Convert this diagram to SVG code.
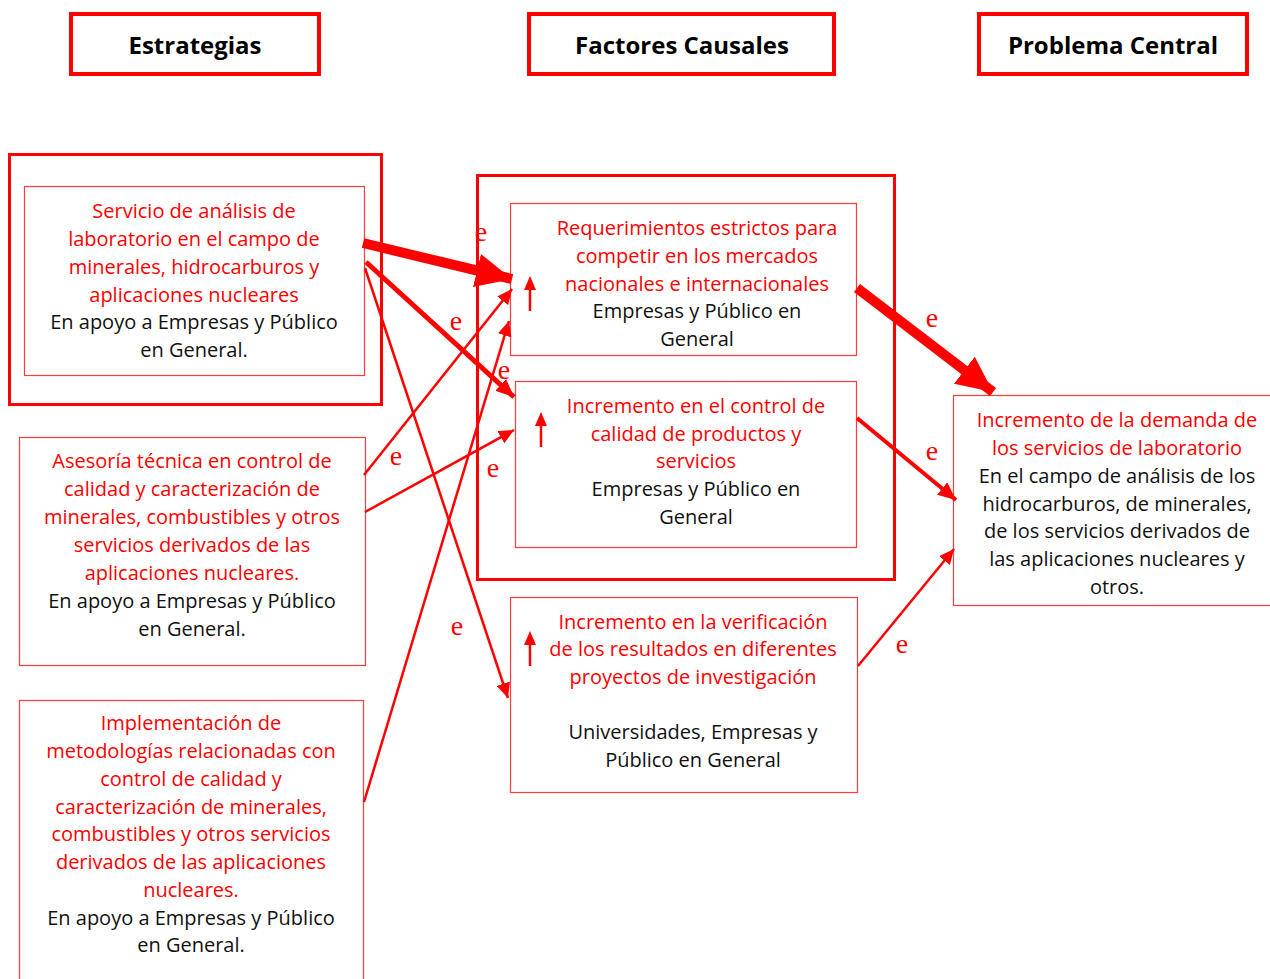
<svg xmlns="http://www.w3.org/2000/svg" width="1270" height="979" viewBox="0 0 1270 979">
<style>
.hdr{fill:#fff;stroke:#ff0000;stroke-width:4}
.hdrt{font-family:"Open Sans","Liberation Sans",sans-serif;font-weight:bold;font-size:24px;fill:#000;text-anchor:middle}
.outer{fill:none;stroke:#ff0000;stroke-width:3}
.box{fill:#fff;stroke:#ff3b3b;stroke-width:1.2}
.t{font-family:"Open Sans","Liberation Sans",sans-serif;font-size:20px;text-anchor:middle}
.r{fill:#ff0000}
.k{fill:#111}
.c{stroke:#ff0000;fill:none}
.e{font-family:"Liberation Serif",serif;font-size:28px;fill:#ff0000;text-anchor:middle}
</style>
<defs>
<marker id="big" markerUnits="userSpaceOnUse" markerWidth="38" markerHeight="34" refX="36" refY="17" orient="auto"><path d="M0,0 L36,17 L0,34 z" fill="#ff0000"/></marker>
<marker id="mid" markerUnits="userSpaceOnUse" markerWidth="20" markerHeight="16" refX="18" refY="8" orient="auto"><path d="M0,0 L18,8 L0,16 z" fill="#ff0000"/></marker>
<marker id="sm" markerUnits="userSpaceOnUse" markerWidth="16" markerHeight="14" refX="15" refY="7" orient="auto"><path d="M0,0 L15,7 L0,14 z" fill="#ff0000"/></marker>
</defs>
<rect width="1270" height="979" fill="#fff"/>

<g id="hdr-estrategias"><rect class="hdr" x="71" y="14" width="248" height="60"/><text class="hdrt" x="195" y="54">Estrategias</text></g>
<g id="hdr-factores"><rect class="hdr" x="529" y="14" width="305" height="60"/><text class="hdrt" x="682" y="54">Factores Causales</text></g>
<g id="hdr-problema"><rect class="hdr" x="979" y="14" width="268" height="60"/><text class="hdrt" x="1113" y="54">Problema Central</text></g>

<g id="strategy-group"><rect class="outer" x="9.5" y="154.5" width="372" height="250"/></g>
<g id="factors-group"><rect class="outer" x="477.5" y="175.5" width="417" height="404"/></g>

<g id="s1"><rect class="box" x="24.5" y="186.5" width="340" height="189"/>
<text class="t"><tspan class="r" x="194" y="218">Servicio de análisis de</tspan><tspan class="r" x="194" y="246">laboratorio en el campo de</tspan><tspan class="r" x="194" y="274">minerales, hidrocarburos y</tspan><tspan class="r" x="194" y="302">aplicaciones nucleares</tspan><tspan class="k" x="194" y="329">En apoyo a Empresas y Público</tspan><tspan class="k" x="194" y="357">en General.</tspan></text></g>

<g id="s2"><rect class="box" x="19.5" y="437.5" width="346" height="228"/>
<text class="t"><tspan class="r" x="192" y="468">Asesoría técnica en control de</tspan><tspan class="r" x="192" y="496">calidad y caracterización de</tspan><tspan class="r" x="192" y="524">minerales, combustibles y otros</tspan><tspan class="r" x="192" y="552">servicios derivados de las</tspan><tspan class="r" x="192" y="580">aplicaciones nucleares.</tspan><tspan class="k" x="192" y="608">En apoyo a Empresas y Público</tspan><tspan class="k" x="192" y="636">en General.</tspan></text></g>

<g id="s3"><rect class="box" x="19.5" y="700.5" width="344" height="290"/>
<text class="t"><tspan class="r" x="191" y="730">Implementación de</tspan><tspan class="r" x="191" y="758">metodologías relacionadas con</tspan><tspan class="r" x="191" y="786">control de calidad y</tspan><tspan class="r" x="191" y="814">caracterización de minerales,</tspan><tspan class="r" x="191" y="841">combustibles y otros servicios</tspan><tspan class="r" x="191" y="869">derivados de las aplicaciones</tspan><tspan class="r" x="191" y="897">nucleares.</tspan><tspan class="k" x="191" y="925">En apoyo a Empresas y Público</tspan><tspan class="k" x="191" y="952">en General.</tspan></text></g>

<g id="fA"><rect class="box" x="510.5" y="203.5" width="346" height="152"/>
<path d="M530,311 V288" stroke="#ff0000" stroke-width="2.5"/><path d="M524,290 L530,276 L536,290 z" fill="#ff0000"/>
<text class="t"><tspan class="r" x="697" y="235">Requerimientos estrictos para</tspan><tspan class="r" x="697" y="263">competir en los mercados</tspan><tspan class="r" x="697" y="291">nacionales e internacionales</tspan><tspan class="k" x="697" y="318">Empresas y Público en</tspan><tspan class="k" x="697" y="346">General</tspan></text></g>

<g id="fB"><rect class="box" x="515.5" y="381.5" width="341" height="166"/>
<path d="M541,447 V424" stroke="#ff0000" stroke-width="2.5"/><path d="M535,426 L541,412 L547,426 z" fill="#ff0000"/>
<text class="t"><tspan class="r" x="696" y="413">Incremento en el control de</tspan><tspan class="r" x="696" y="441">calidad de productos y</tspan><tspan class="r" x="696" y="468">servicios</tspan><tspan class="k" x="696" y="496">Empresas y Público en</tspan><tspan class="k" x="696" y="524">General</tspan></text></g>

<g id="fC"><rect class="box" x="510.5" y="597.5" width="347" height="195"/>
<path d="M530,666 V643" stroke="#ff0000" stroke-width="2.5"/><path d="M524,645 L530,631 L536,645 z" fill="#ff0000"/>
<text class="t"><tspan class="r" x="693" y="629">Incremento en la verificación</tspan><tspan class="r" x="693" y="656">de los resultados en diferentes</tspan><tspan class="r" x="693" y="684">proyectos de investigación</tspan><tspan class="k" x="693" y="739">Universidades, Empresas y</tspan><tspan class="k" x="693" y="767">Público en General</tspan></text></g>

<g id="problem"><rect class="box" x="953.5" y="395.5" width="320" height="210"/>
<text class="t"><tspan class="r" x="1117" y="427">Incremento de la demanda de</tspan><tspan class="r" x="1117" y="455">los servicios de laboratorio</tspan><tspan class="k" x="1117" y="483">En el campo de análisis de los</tspan><tspan class="k" x="1117" y="511">hidrocarburos, de minerales,</tspan><tspan class="k" x="1117" y="538">de los servicios derivados de</tspan><tspan class="k" x="1117" y="566">las aplicaciones nucleares y</tspan><tspan class="k" x="1117" y="594">otros.</tspan></text></g>

<g id="connectors">
<line class="c" x1="363" y1="243" x2="512" y2="279" stroke-width="10" marker-end="url(#big)"/>
<line class="c" x1="366" y1="262" x2="514" y2="397" stroke-width="5" marker-end="url(#mid)"/>
<line class="c" x1="365" y1="268" x2="508" y2="698" stroke-width="2.5" marker-end="url(#sm)"/>
<line class="c" x1="364" y1="475" x2="512" y2="289" stroke-width="2.5" marker-end="url(#sm)"/>
<line class="c" x1="365" y1="512" x2="514" y2="430" stroke-width="2.5" marker-end="url(#sm)"/>
<line class="c" x1="364" y1="802" x2="509" y2="321" stroke-width="2.5" marker-end="url(#sm)"/>
<line class="c" x1="857" y1="288" x2="993" y2="392" stroke-width="10" marker-end="url(#big)"/>
<line class="c" x1="857" y1="418" x2="956" y2="500" stroke-width="4" marker-end="url(#mid)"/>
<line class="c" x1="858" y1="666" x2="954" y2="549" stroke-width="2.5" marker-end="url(#sm)"/>
<text class="e" x="481" y="241">e</text>
<text class="e" x="456" y="330">e</text>
<text class="e" x="504" y="379">e</text>
<text class="e" x="396" y="465">e</text>
<text class="e" x="493" y="477">e</text>
<text class="e" x="457" y="635">e</text>
<text class="e" x="932" y="327">e</text>
<text class="e" x="932" y="460">e</text>
<text class="e" x="902" y="653">e</text>
</g>
</svg>
